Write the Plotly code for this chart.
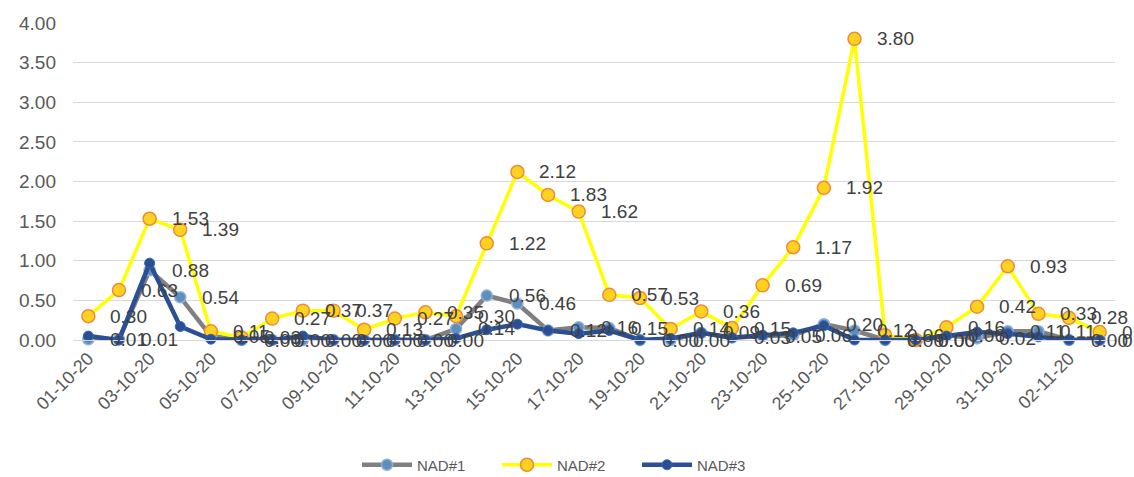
import plotly.graph_objects as go

dates = ["01-10-20", "02-10-20", "03-10-20", "04-10-20", "05-10-20", "06-10-20", "07-10-20",
         "08-10-20", "09-10-20", "10-10-20", "11-10-20", "12-10-20", "13-10-20", "14-10-20",
         "15-10-20", "16-10-20", "17-10-20", "18-10-20", "19-10-20", "20-10-20", "21-10-20",
         "22-10-20", "23-10-20", "24-10-20", "25-10-20", "26-10-20", "27-10-20", "28-10-20",
         "29-10-20", "30-10-20", "31-10-20", "01-11-20", "02-11-20", "03-11-20"]

nad1 = [0.01, 0.01, 0.88, 0.54, 0.05, 0.00, 0.00, 0.00, 0.00, 0.00, 0.00, 0.00, 0.14, 0.56,
        0.46, 0.12, 0.16, 0.15, 0.00, 0.00, 0.09, 0.03, 0.05, 0.06, 0.20, 0.12, 0.00, 0.00,
        0.06, 0.02, 0.11, 0.11, 0.00, 0.00]
nad2 = [0.30, 0.63, 1.53, 1.39, 0.11, 0.03, 0.27, 0.37, 0.37, 0.13, 0.27, 0.35, 0.30, 1.22,
        2.12, 1.83, 1.62, 0.57, 0.53, 0.14, 0.36, 0.15, 0.69, 1.17, 1.92, 3.80, 0.06, 0.00,
        0.16, 0.42, 0.93, 0.33, 0.28, 0.10]
nad3 = [0.05, 0.00, 0.97, 0.17, 0.01, 0.00, 0.00, 0.05, 0.00, 0.00, 0.00, 0.00, 0.02, 0.13,
        0.20, 0.12, 0.08, 0.12, 0.00, 0.02, 0.09, 0.03, 0.06, 0.09, 0.18, 0.00, 0.00, 0.00,
        0.05, 0.10, 0.08, 0.04, 0.00, 0.00]

tick_labels = dates[::2]
y_ticks = [0, 0.5, 1.0, 1.5, 2.0, 2.5, 3.0, 3.5, 4.0]

FONT = "Liberation Sans"
TXT = "#595959"

fig = go.Figure()
fig.add_trace(go.Scatter(
    x=dates, y=nad1, name="NAD#1", mode="lines+markers",
    line=dict(color="#808080", width=4.5),
    marker=dict(symbol="circle", size=11, color="#5f8dbd", line=dict(color="#8fb0d6", width=1.5)),
    cliponaxis=False))
fig.add_trace(go.Scatter(
    x=dates, y=nad2, name="NAD#2", mode="lines+markers",
    line=dict(color="#FFFF00", width=3.5),
    marker=dict(symbol="circle", size=13, color="#FFD21F", line=dict(color="#EE8A3A", width=1.5)),
    cliponaxis=False))
fig.add_trace(go.Scatter(
    x=dates, y=nad3, name="NAD#3", mode="lines+markers",
    line=dict(color="#2A4F93", width=4.5),
    marker=dict(symbol="circle", size=10, color="#2A4F93", line=dict(color="#3d66b0", width=1)),
    cliponaxis=False))

annotations = []
for series in (nad1, nad2):
    for d, v in zip(dates, series):
        annotations.append(dict(
            x=d, y=v, text=f"{v:.2f}", showarrow=False, xanchor="left", yanchor="middle",
            xshift=20, font=dict(family=FONT, size=19, color="#404040")))

fig.update_layout(
    width=1134, height=477,
    margin=dict(l=73, r=19, t=23, b=137, autoexpand=False),
    paper_bgcolor="white", plot_bgcolor="white",
    font=dict(family=FONT, color=TXT, size=18),
    showlegend=True,
    legend=dict(orientation="h", x=0.5, xref="container", xanchor="center",
                y=1 - 465 / 477, yref="container", yanchor="middle",
                font=dict(family=FONT, size=15, color=TXT), itemwidth=50,
                entrywidth=75, traceorder="normal"),
    annotations=annotations,
    xaxis=dict(type="category", categoryorder="array", categoryarray=dates,
               range=[-0.5, len(dates) - 0.5], automargin=False,
               tickmode="array", tickvals=tick_labels, ticktext=tick_labels,
               tickangle=-45, showgrid=False, showline=True, linecolor="#d9d9d9", linewidth=1,
               ticks="", tickfont=dict(family=FONT, size=18, color=TXT), zeroline=False),
    yaxis=dict(range=[0, 4], tickmode="array", tickvals=y_ticks, automargin=False,
               tickformat=".2f", showgrid=True, gridcolor="#d9d9d9", gridwidth=1,
               zeroline=False, showline=False, ticks="", ticklen=0, ticklabelstandoff=16,
               tickfont=dict(family=FONT, size=19, color=TXT)),
)

fig.write_html("out.html", config={"displayModeBar": False},
               post_script="document.body.style.margin='0';")
